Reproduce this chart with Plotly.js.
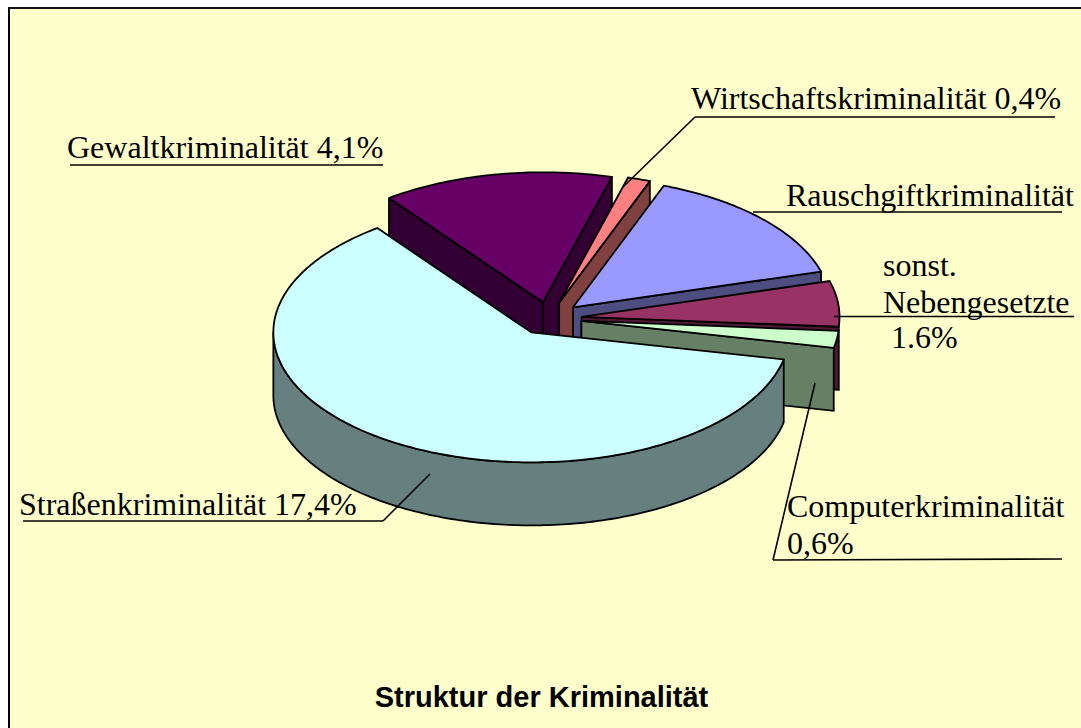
<!DOCTYPE html>
<html><head><meta charset="utf-8">
<script src="https://cdn.plot.ly/plotly-3.0.1.min.js"></script>
<style>html,body{margin:0;padding:0;background:#fff;overflow:hidden}</style>
</head><body><div id="chart" style="width:1081px;height:728px"></div>
<script>
// Data, clockwise starting from the large slice
const categories = ["Straßenkriminalität","Gewaltkriminalität","Wirtschaftskriminalität","Rauschgiftkriminalität","sonst. Nebengesetzte","Computerkriminalität"];
const values = [17.4, 4.1, 0.4, 4.2, 1.6, 0.6];
const topColors = ["#CCFFFF","#660066","#FF8080","#9999FF","#993366","#CCFFCC"];
const wallColors = ["#668080","#330033","#804040","#4D4D80","#4D1A33","#668066"];
const drawOrder = [1,2,3,4,5,0];
const labelTexts = ["Gewaltkriminalität 4,1%","Wirtschaftskriminalität 0,4%","Rauschgiftkriminalität","sonst.","Nebengesetzte","1.6%","Computerkriminalität","0,6%","Straßenkriminalität 17,4%"];
const labelX = [67,691,786,883,883,891,787,787,19];
const labelBase = [157,108,205,275,312,347,516,553,514];
const leaders = [
  [[70,165],[383,165]],
  [[623,187],[695,117],[1055,117]],
  [[753,212],[1062,212]],
  [[834,316.5],[1074,316.5]],
  [[815,383],[773,560],[1062,559]],
  [[430,474],[383,521],[23,521]]
];

// 3D pie projection
const cx=549, cy=318.5, rx=258, ry=130, depth=63, explode=32.7, startAngle=102;
const total = values.reduce((a,b)=>a+b,0);
const rad = d=>d*Math.PI/180;
const pt = (o,a)=>[o[0]+rx*Math.sin(rad(a)), o[1]-ry*Math.cos(rad(a))];
const down = p=>[p[0],p[1]+depth];
const poly = (pts,color,name)=>({type:"scatter",mode:"lines",name,hoverinfo:"name",
  x:[...pts.map(p=>p[0]),pts[0][0]], y:[...pts.map(p=>p[1]),pts[0][1]],
  fill:"toself",fillcolor:color,line:{color:"#000",width:1.8,simplify:false},showlegend:false});
function arc(o,a0,a1){const n=Math.max(2,Math.ceil(Math.abs(a1-a0)));const r=[];for(let i=0;i<=n;i++)r.push(pt(o,a0+(a1-a0)*i/n));return r;}

let acc=startAngle; const slices=values.map(v=>{const s={a0:acc,a1:acc+v/total*360};acc=s.a1;return s;});
const traces=[];
drawOrder.forEach(i=>{
  const {a0,a1}=slices[i], mid=(a0+a1)/2;
  const o=[cx+explode*Math.sin(rad(mid)), cy-explode*ry/rx*Math.cos(rad(mid))];
  // radial walls facing the viewer
  if(Math.sin(rad(a0))<0){const p=pt(o,a0);traces.push(poly([o,p,down(p),down(o)],wallColors[i],categories[i]));}
  if(Math.sin(rad(a1))>0){const p=pt(o,a1);traces.push(poly([o,p,down(p),down(o)],wallColors[i],categories[i]));}
  // outer curved wall for the front half
  const f0=Math.max(a0,90), f1=Math.min(a1,270);
  if(f1>f0){const top=arc(o,f0,f1);traces.push(poly([...top,...top.slice().reverse().map(down)],wallColors[i],categories[i]));}
  traces.push(poly([o,...arc(o,a0,a1)],topColors[i],categories[i]));
});

const FONT="Liberation Serif", FS=32;
const annotations=labelTexts.map((t,i)=>({text:t,xref:"x",yref:"y",x:labelX[i],y:labelBase[i]+8,xanchor:"left",yanchor:"bottom",
  showarrow:false,align:"left",borderpad:0,borderwidth:0,font:{family:FONT,size:FS,color:"#000"}}));
const shapes=[
  {type:"rect",layer:"below",xref:"x",yref:"y",x0:8,x1:1081,y0:8,y1:728,fillcolor:"#FFFFCC",line:{width:0}},
  {type:"line",layer:"below",xref:"x",yref:"y",x0:9,x1:9,y0:8,y1:728,line:{color:"#000",width:2}},
  {type:"line",layer:"below",xref:"x",yref:"y",x0:8,x1:1081,y0:8,y1:8,line:{color:"#111",width:2}}
];
leaders.forEach(l=>{for(let k=0;k<l.length-1;k++)shapes.push({type:"line",layer:"above",xref:"x",yref:"y",x0:l[k][0],y0:l[k][1],x1:l[k+1][0],y1:l[k+1][1],line:{color:"#000",width:1.6}});});

Plotly.newPlot("chart",traces,{
  width:1081,height:728,margin:{l:0,r:0,t:0,b:0,pad:0},paper_bgcolor:"#fff",plot_bgcolor:"rgba(0,0,0,0)",showlegend:false,
  title:{text:"<b>Struktur der Kriminalität</b>",x:541.5/1081,xanchor:"center",xref:"paper",y:1-697/728,yanchor:"middle",yref:"paper",font:{family:"Liberation Sans",size:29,color:"#000"}},
  xaxis:{range:[0,1081],visible:false,fixedrange:true},
  yaxis:{range:[728,0],visible:false,fixedrange:true},
  annotations,shapes
},{displayModeBar:false,staticPlot:true});
</script></body></html>
